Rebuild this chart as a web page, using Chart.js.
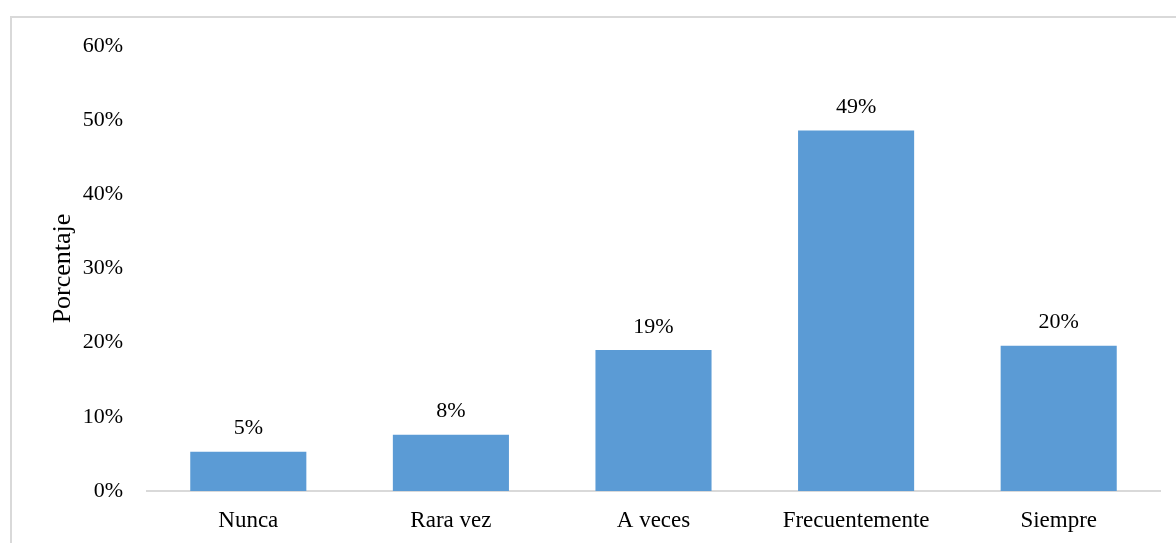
<!DOCTYPE html>
<html>
<head>
<meta charset="utf-8">
<script src="https://cdn.jsdelivr.net/npm/chart.js@4"></script>
<style>
body { margin: 0; background: #fff; }
#frame { position: absolute; left: 10px; top: 16px; width: 1200px; height: 560px; border: 2px solid #d9d9d9; box-sizing: border-box; }
#wrap { position: absolute; left: 0; top: 0; width: 1176px; height: 543px; }
</style>
</head>
<body>
<div id="frame"></div>
<div id="wrap"><canvas id="myChart" width="1176" height="543"></canvas></div>
<script>
// datos
var categorias = ["Nunca", "Rara vez", "A veces", "Frecuentemente", "Siempre"];
var porcentajes = [5.3, 7.6, 19.0, 48.6, 19.6];
var ticksY = [0, 10, 20, 30, 40, 50, 60];

var fuente = "'Liberation Serif', 'Times New Roman', serif";

// etiquetas encima de cada barra
var etiquetas = {
    id: 'etiquetas',
    afterDatasetsDraw: function(chart) {
        var ctx = chart.ctx;
        var meta = chart.getDatasetMeta(0);
        ctx.save();
        ctx.font = "22px " + fuente;
        ctx.fillStyle = "#000";
        ctx.textAlign = "center";
        ctx.textBaseline = "bottom";
        meta.data.forEach(function(bar, i) {
            ctx.fillText(Math.round(porcentajes[i]) + "%", bar.x, bar.y - 12);
        });
        ctx.restore();
    }
};

var data = {
    labels: categorias,
    datasets: [{
        label: 'Porcentaje',
        backgroundColor: '#5b9bd5',
        data: porcentajes,
        categoryPercentage: 1,
        barPercentage: 0.573
    }]
};

var config = {
    type: 'bar',
    data: data,
    options: {
        responsive: false,
        animation: { duration: 0 },
        layout: { padding: { left: 44, right: 16, top: 46, bottom: 0 } },
        plugins: {
            legend: { display: false },
            tooltip: { enabled: false }
        },
        scales: {
            x: {
                grid: { display: false, drawTicks: false },
                border: { display: true, color: '#d9d9d9', width: 2 },
                ticks: { color: '#000', font: { family: fuente, size: 23 }, padding: 16, maxRotation: 0 },
                afterFit: function(scale) { scale.height = 52; }
            },
            y: {
                min: 0,
                max: 60,
                grid: { display: false, drawTicks: false },
                border: { display: false },
                afterBuildTicks: function(scale) {
                    scale.ticks = ticksY.map(function(v) { return { value: v }; });
                },
                ticks: {
                    color: '#000',
                    font: { family: fuente, size: 22 },
                    padding: 24,
                    callback: function(v) { return v + "%"; }
                },
                title: {
                    display: true,
                    text: 'Porcentaje',
                    color: '#000',
                    font: { family: fuente, size: 26 },
                    padding: 4
                },
                afterFit: function(scale) { scale.width = 103; }
            }
        }
    },
    plugins: [etiquetas]
};

var myChart = new Chart(document.getElementById('myChart'), config);
</script>
</body>
</html>
